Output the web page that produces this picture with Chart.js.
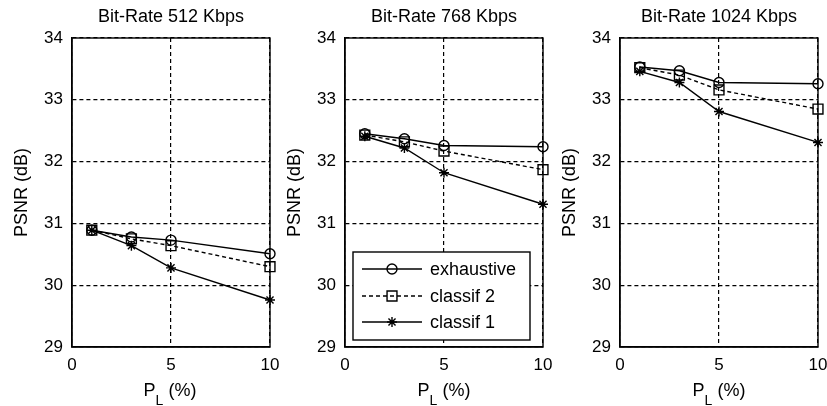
<!DOCTYPE html>
<html lang="en">
<head>
<meta charset="UTF-8">
<title>PSNR vs PL</title>
<style>
  body { margin: 0; width: 827px; height: 406px; background: #fff; overflow: hidden; position: relative; font-family: "Liberation Sans", Arial, sans-serif; }
  canvas { position: absolute; top: 0; }
  .xlab { position: absolute; top: 380px; width: 120px; text-align: center; font-size: 18px; line-height: 20px; color: #000; white-space: nowrap; }
  .xlab sub { font-size: 14px; vertical-align: -9px; line-height: 0; }
</style>
</head>
<body>
<canvas id="c512" width="290" height="406" style="left:0px"></canvas>
<canvas id="c768" width="290" height="406" style="left:273px"></canvas>
<canvas id="c1024" width="290" height="406" style="left:548px"></canvas>
<div class="xlab" style="left:110px">P<sub>L</sub> (%)</div>
<div class="xlab" style="left:384px">P<sub>L</sub> (%)</div>
<div class="xlab" style="left:659px">P<sub>L</sub> (%)</div>

<script src="https://cdn.jsdelivr.net/npm/chart.js@4/dist/chart.umd.min.js"></script>
<script>
    // packet loss rate (%)
    const pl = [1, 3, 5, 10];
    const seriesNames = ["exhaustive", "classif 2", "classif 1"];
    const titles = ["Bit-Rate 512 Kbps", "Bit-Rate 768 Kbps", "Bit-Rate 1024 Kbps"];
    const yTicks = [29, 30, 31, 32, 33, 34];
    const xTicks = [0, 5, 10];

    // PSNR (dB) per bit-rate
    const exhaustive512 = [30.89, 30.78, 30.73, 30.51];
    const classif2_512 = [30.89, 30.75, 30.64, 30.30];
    const classif1_512 = [30.89, 30.64, 30.28, 29.76];

    const exhaustive768 = [32.45, 32.37, 32.26, 32.24];
    const classif2_768 = [32.43, 32.32, 32.17, 31.87];
    const classif1_768 = [32.41, 32.22, 31.82, 31.31];

    const exhaustive1024 = [33.53, 33.47, 33.28, 33.26];
    const classif2_1024 = [33.52, 33.40, 33.16, 32.85];
    const classif1_1024 = [33.46, 33.28, 32.81, 32.31];

    const FONT = '"Liberation Sans", Arial, sans-serif';
    Chart.defaults.font.family = FONT;
    Chart.defaults.color = "#000";

    const styles = [
        { pointStyle: "circle", pointRadius: 5, borderDash: [] },
        { pointStyle: "rect", pointRadius: 7, borderDash: [4, 3] },
        { pointStyle: "star", pointRadius: 5, borderDash: [] }
    ];

    // solid box around the plot area + title centred over it
    const boxPlugin = {
        id: "box",
        afterDraw(chart) {
            const { ctx, chartArea: a } = chart;
            ctx.save();
            ctx.strokeStyle = "#000";
            ctx.lineWidth = 1.4;
            ctx.setLineDash([]);
            ctx.strokeRect(a.left, a.top, a.right - a.left, a.bottom - a.top);
            ctx.font = "18px " + FONT;
            ctx.fillStyle = "#000";
            ctx.textAlign = "center";
            ctx.textBaseline = "middle";
            ctx.fillText(chart.options.plugins.panelTitle, (a.left + a.right) / 2, 17);
            ctx.restore();
        }
    };

    function drawMarker(ctx, style, x, y, r) {
        ctx.beginPath();
        if (style == "circle") {
            ctx.arc(x, y, r, 0, Math.PI * 2);
        } else if (style == "rect") {
            const s = r * Math.SQRT1_2;
            ctx.rect(x - s, y - s, 2 * s, 2 * s);
        } else {
            for (let k = 0; k < 4; k++) {
                const ang = k * Math.PI / 4;
                ctx.moveTo(x - r * Math.cos(ang), y - r * Math.sin(ang));
                ctx.lineTo(x + r * Math.cos(ang), y + r * Math.sin(ang));
            }
        }
        ctx.stroke();
    }

    // legend box inside the middle panel
    const legendPlugin = {
        id: "boxLegend",
        afterDraw(chart) {
            const { ctx, chartArea: a } = chart;
            const left = a.left + 8, right = a.left + 185;
            const top = a.bottom - 95, bottom = a.bottom - 7;
            ctx.save();
            ctx.fillStyle = "#fff";
            ctx.fillRect(left, top, right - left, bottom - top);
            ctx.strokeStyle = "#000";
            ctx.lineWidth = 1.4;
            ctx.strokeRect(left, top, right - left, bottom - top);
            const rows = [a.bottom - 78, a.bottom - 51, a.bottom - 25];
            ctx.font = "18px " + FONT;
            ctx.textBaseline = "middle";
            ctx.fillStyle = "#000";
            seriesNames.forEach((name, i) => {
                const y = rows[i];
                ctx.lineWidth = 1.4;
                ctx.setLineDash(styles[i].borderDash);
                ctx.beginPath();
                ctx.moveTo(a.left + 17, y);
                ctx.lineTo(a.left + 77, y);
                ctx.stroke();
                ctx.setLineDash([]);
                drawMarker(ctx, styles[i].pointStyle, a.left + 47, y, styles[i].pointStyle == "rect" ? 7 : 5);
                ctx.fillText(name, a.left + 85, y + 1);
            });
            ctx.restore();
        }
    };

    function makePanel(id, title, series, withLegend) {
        const datasets = series.map((vals, i) => ({
            label: seriesNames[i],
            data: pl.map((x, j) => ({ x: x, y: vals[j] })),
            borderColor: "#000",
            borderWidth: 1.4,
            borderDash: styles[i].borderDash,
            pointStyle: styles[i].pointStyle,
            pointRadius: styles[i].pointRadius,
            pointBorderWidth: 1.4,
            pointBorderColor: "#000",
            pointBackgroundColor: "rgba(0,0,0,0)",
            tension: 0,
            fill: false,
            clip: false
        }));
        const plugins = [boxPlugin];
        if (withLegend) plugins.push(legendPlugin);
        return new Chart(document.getElementById(id), {
            type: "line",
            data: { datasets: datasets },
            plugins: plugins,
            options: {
                responsive: false,
                animation: false,
                layout: { padding: { left: 0, right: 20, top: 38, bottom: 0 } },
                plugins: {
                    panelTitle: title,
                    legend: { display: false },
                    tooltip: { enabled: false },
                    title: { display: false }
                },
                scales: {
                    x: {
                        type: "linear",
                        min: 0,
                        max: 10,
                        afterBuildTicks: (s) => { s.ticks = xTicks.map(v => ({ value: v })); },
                        afterFit: (s) => { s.height = 59; },
                        ticks: { color: "#000", font: { size: 17 }, padding: 8, maxRotation: 0 },
                        grid: { color: "#000", lineWidth: 1.2, drawTicks: false },
                        border: { color: "#000", width: 1.4, dash: [4, 3] }
                    },
                    y: {
                        min: 29,
                        max: 34,
                        afterBuildTicks: (s) => { s.ticks = yTicks.map(v => ({ value: v })); },
                        afterFit: (s) => { s.width = 72; },
                        ticks: { color: "#000", font: { size: 17 }, padding: 9 },
                        grid: { color: "#000", lineWidth: 1.2, drawTicks: false },
                        border: { color: "#000", width: 1.4, dash: [4, 3] },
                        title: {
                            display: true,
                            text: "PSNR (dB)",
                            color: "#000",
                            font: { size: 18 },
                            padding: { top: 11, bottom: 0 }
                        }
                    }
                }
            }
        });
    }

    makePanel("c512", titles[0], [exhaustive512, classif2_512, classif1_512], false);
    makePanel("c768", titles[1], [exhaustive768, classif2_768, classif1_768], true);
    makePanel("c1024", titles[2], [exhaustive1024, classif2_1024, classif1_1024], false);
</script>
</body>
</html>
